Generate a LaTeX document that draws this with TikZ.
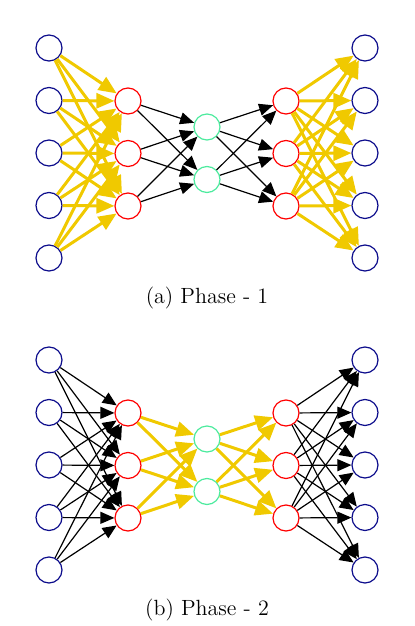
\documentclass[tikz,border=0pt]{standalone}
\usepackage{tikz}
\usetikzlibrary{arrows.meta}
\definecolor{navy}{rgb}{0.05,0.05,0.55}
\definecolor{gold}{rgb}{0.94,0.79,0.0}
\definecolor{mint}{rgb}{0.3,0.92,0.62}

\begin{document}
\begin{tikzpicture}[
  x=0.5pt, y=-0.5pt,
  unit/.style={circle, draw, line width=0.6pt, minimum size=13pt, inner sep=0pt, fill=white},
  inp/.style={unit, draw=navy},
  hid/.style={unit, draw=red},
  code/.style={unit, draw=mint},
  yel/.style={draw=gold, line width=1.5pt, -{Triangle[length=9pt, width=7.5pt]}},
  blk/.style={draw=black, line width=0.6pt, -{Triangle[length=7pt, width=6pt]}},
  caption/.style={font=\fontsize{11}{13}\selectfont}
]
\useasboundingbox (0,0) rectangle (414,626);
\foreach \p/\dy/\os/\is/\lt in {1/0/yel/blk/a, 2/312/blk/yel/b} {
  % layers of one phase
  \foreach \k in {1,...,5} {
    \node[inp] (i\k-\p) at (49, 48+52.5*\k-52.5+\dy) {};
    \node[inp] (o\k-\p) at (365, 48+52.5*\k-52.5+\dy) {};
  }
  \foreach \k in {1,2,3} {
    \node[hid] (h\k-\p) at (128, 101+52.5*\k-52.5+\dy) {};
    \node[hid] (g\k-\p) at (286, 101+52.5*\k-52.5+\dy) {};
  }
  \foreach \k in {1,2}
    \node[code] (c\k-\p) at (207, 127+52.5*\k-52.5+\dy) {};
  % connections
  \foreach \s in {1,...,5}
    \foreach \t in {1,2,3} {
      \draw[\os] (i\s-\p) -- (h\t-\p);
      \draw[\os] (g\t-\p) -- (o\s-\p);
    }
  \foreach \s in {1,2,3}
    \foreach \t in {1,2} {
      \draw[\is] (h\s-\p) -- (c\t-\p);
      \draw[\is] (c\t-\p) -- (g\s-\p);
    }
  \node[caption] (title-\p) at (207, 298+\dy) {(\lt) Phase - \p};
}
\end{tikzpicture}
\end{document}
